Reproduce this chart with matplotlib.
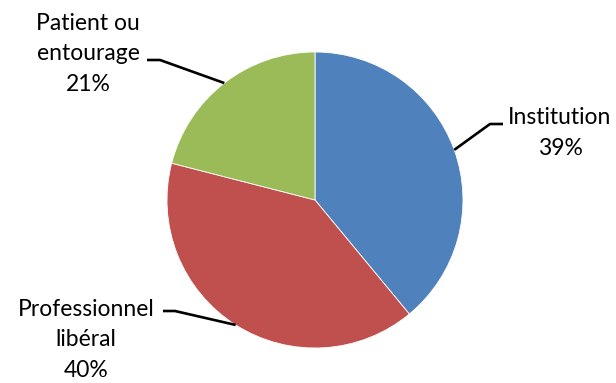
import numpy as np
from matplotlib import pyplot as plt

## répartition des sources
labels = ["Institution", "Professionnel\nlibéral", "Patient ou\nentourage"]
percents = [39, 40, 21]
colors = ["#4F81BD", "#C0504D", "#9BBB59"]

W, H = 616, 383
cx, cy, r = 315, H - 200, 148

fig = plt.figure(figsize=(W / 100, H / 100), dpi=100)
ax = fig.add_axes([0, 0, 1, 1])

ax.pie(percents, colors=colors, startangle=90, counterclock=False,
       center=(cx, cy), radius=r, frame=True,
       wedgeprops=dict(edgecolor="white", linewidth=0.6))
ax.set_xlim(0, W)
ax.set_ylim(0, H)
ax.set_aspect("equal")
ax.axis("off")

# étiquettes : position du texte, coude et fin du trait de rappel
label_pos = [(560, H - 133), (86, H - 340), (88, H - 54)]
elbows = [((490, H - 124), (503, H - 124)),
          ((175, H - 311), (163, H - 311)),
          ((160, H - 60), (147, H - 60))]

start = 90.0
for lab, pct, pos, (elb, end) in zip(labels, percents, label_pos, elbows):
    span = 360.0 * pct / sum(percents)
    mid = np.deg2rad(start - span / 2)
    start -= span
    ax_pt = (cx + r * np.cos(mid), cy + r * np.sin(mid))
    ax.plot([ax_pt[0], elb[0], end[0]], [ax_pt[1], elb[1], end[1]],
            color="black", linewidth=1.9, solid_capstyle="butt")
    ax.text(pos[0], pos[1], "%s\n%d%%" % (lab, pct), ha="center", va="center",
            fontsize=16.5, family="Lato", linespacing=1.58, color="black")

fig.savefig("out.png", dpi=100)
